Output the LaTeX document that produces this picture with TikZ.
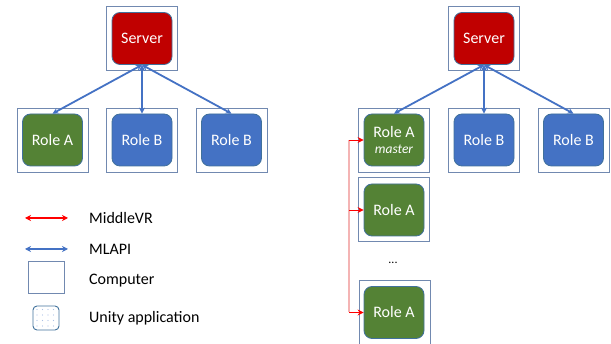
\documentclass[tikz,border=0pt]{standalone}
\usepackage{fontspec}
\setmainfont{Carlito}
\usetikzlibrary{arrows.meta,calc}
\definecolor{srvred}{HTML}{C00000}
\definecolor{rolegreen}{HTML}{548235}
\definecolor{roleblue}{HTML}{4472C4}
\definecolor{appedge}{HTML}{41719C}
\definecolor{pcedge}{HTML}{7189B0}
\definecolor{mvrpink}{HTML}{F4B4B4}
\tikzset{
  pc/.style={draw=pcedge, line width=0.9pt, minimum width=71pt, minimum height=64pt, inner sep=0pt},
  app/.style={draw=appedge, line width=0.8pt, rounded corners=8pt, minimum width=60pt, minimum height=52pt, inner sep=0pt, text=white, font=\fontsize{16}{17}\selectfont},
  server/.style={app, fill=srvred},
  rolea/.style={app, fill=rolegreen},
  roleb/.style={app, fill=roleblue},
  mlapi/.style={draw=roleblue, line width=1.8pt, {Stealth[length=6pt,width=6pt]}-{Stealth[length=6pt,width=6pt]}},
  mvr/.style={draw=red, line width=0.9pt, -{Stealth[length=6pt,width=6pt]}},
  legtext/.style={anchor=west, inner sep=0pt, font=\fontsize{16}{17}\selectfont}
}
\begin{document}
\begin{tikzpicture}[x=1pt, y=-1pt]
  \useasboundingbox (0,0) rectangle (611,344);
  % left setup
  \node[pc] (pcSrvL) at (142,38.5) {};
  \node[pc] (pcAL) at (52.5,140) {};
  \node[pc] (pcB1L) at (142,140) {};
  \node[pc] (pcB2L) at (231.5,140) {};
  \node[server] (srvL) at (142,38.5) {Server};
  \node[rolea] (raL) at (52.5,140) {Role A};
  \node[roleb] (rb1L) at (142,140) {Role B};
  \node[roleb] (rb2L) at (231.5,140) {Role B};
  \draw[mlapi] (srvL.south) -- (raL.north);
  \draw[mlapi] (srvL.south) -- (rb1L.north);
  \draw[mlapi] (srvL.south) -- (rb2L.north);
  % right setup
  \node[pc] (pcSrvR) at (484,38.5) {};
  \node[pc] (pcAM) at (394,140) {};
  \node[pc] (pcB1R) at (484,140) {};
  \node[pc] (pcB2R) at (573.5,140) {};
  \node[pc] (pcA2) at (394,209.5) {};
  \node[pc] (pcA3) at (395,312.5) {};
  \node[server] (srvR) at (484,38.5) {Server};
  \node[rolea, align=center] (raM) at (394,140) {Role A\\[-1pt]{\fontsize{13.5}{14}\selectfont\itshape master}};
  \node[roleb] (rb1R) at (484,140) {Role B};
  \node[roleb] (rb2R) at (573.5,140) {Role B};
  \node[rolea] (ra2) at (394,210) {Role A};
  \node[rolea] (ra3) at (394,312.5) {Role A};
  \node[font=\fontsize{12}{12}\selectfont] (dots) at (393,263) {...};
  \draw[mlapi] (srvR.south) -- (raM.north);
  \draw[mlapi] (srvR.south) -- (rb1R.north);
  \draw[mlapi] (srvR.south) -- (rb2R.north);
  % MiddleVR links
  \coordinate (bus) at (349,0);
  \draw[mvrpink, line width=1.2pt] (bus |- raM.west) -- (bus |- ra3.west);
  \draw[mvr] (bus |- raM.west) -- (raM.west);
  \draw[mvr] (bus |- ra2.west) -- (ra2.west);
  \draw[mvr] (bus |- ra3.west) -- (ra3.west);
  % legend
  \coordinate (mvrA) at (25,218);
  \coordinate (mvrB) at (68,218);
  \coordinate (mlA) at (25,249);
  \coordinate (mlB) at (68,249);
  \draw[draw=red, line width=1.8pt, {Stealth[length=6pt,width=6pt]}-{Stealth[length=6pt,width=6pt]}] (mvrA) -- (mvrB);
  \draw[mlapi] (mlA) -- (mlB);
  \node[pc, minimum width=36pt, minimum height=32pt] (legPc) at (46,277) {};
  \node[draw=appedge, line width=0.9pt, rounded corners=4pt, minimum width=26pt, minimum height=24pt, inner sep=0pt] (legApp) at (46,318) {};
  \foreach \i in {0,...,3}
    \foreach \j in {0,...,3}
      \fill[roleblue!45] ($(legApp.north west)+(4.5+5.5*\i,4+5.5*\j)$) circle (0.6pt);
  \node[legtext] (txtMvr) at (89,218) {MiddleVR};
  \node[legtext] (txtMl) at (89,249) {MLAPI};
  \node[legtext] (txtPc) at (89,281) {Computer};
  \node[legtext] (txtApp) at (89,318) {Unity application};
\end{tikzpicture}
\end{document}
